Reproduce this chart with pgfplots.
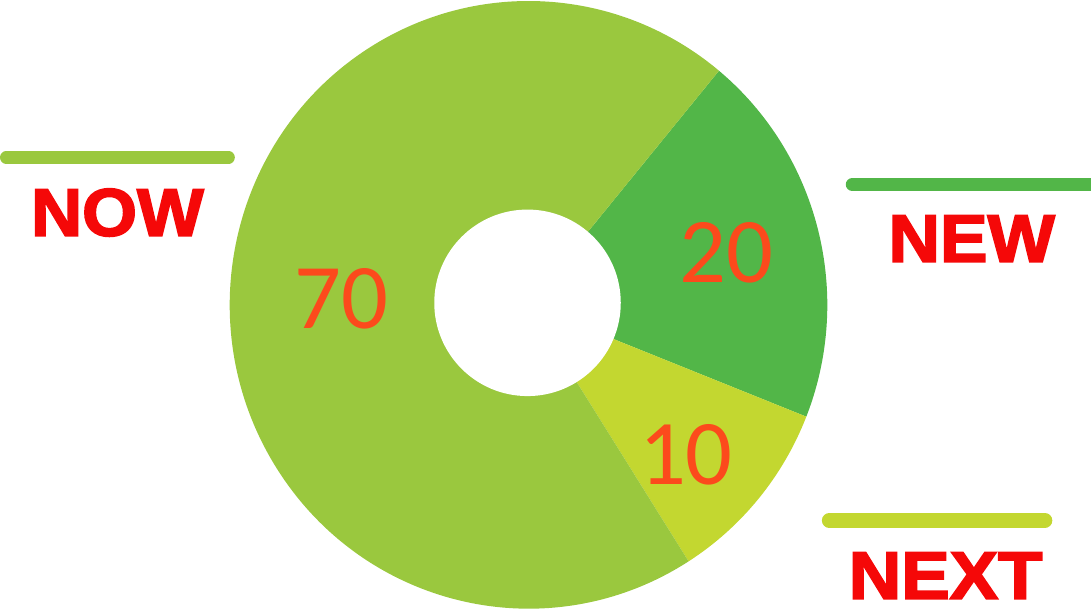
\documentclass[border=0pt]{standalone}
\usepackage{pgfplots}
\pgfplotsset{compat=1.18}
\usepackage{fontspec}
\usepackage{graphicx}
\setmainfont{Liberation Sans}
\newfontfamily\numfont{Carlito}
\newfontfamily\labfont[BoldFeatures={FakeBold=2.6}]{Liberation Sans}
\definecolor{cnow}{RGB}{154,200,62}
\definecolor{cnew}{RGB}{82,182,72}
\definecolor{cnext}{RGB}{195,215,48}
\definecolor{labred}{RGB}{245,8,8}
\definecolor{numred}{RGB}{252,74,28}
% shares (percent)
\def\vNew{20}
\def\vNext{10}
\def\vNow{70}
\def\cx{530}\def\cy{305}\def\rx{298}\def\ry{303}\def\ri{93}
\pgfmathsetmacro\aA{50.4}
\pgfmathsetmacro\aB{\aA-\vNew*3.6}
\pgfmathsetmacro\aC{\aB-\vNext*3.6}
\pgfmathsetmacro\aD{\aC-\vNow*3.6}
\begin{document}
\begin{tikzpicture}
\begin{axis}[
  width=16cm, height=8.932cm, scale only axis,
  xmin=0, xmax=1091, ymin=0, ymax=609,
  hide axis, clip=true,
]
% legend bars
\addplot[cnow, line width=5.1pt, line cap=round] coordinates {(9,452) (231,452)};
\addplot[cnew, line width=5.5pt, line cap=round] coordinates {(853,425) (1110,425)};
\addplot[cnext, line width=6.2pt, line cap=round] coordinates {(830,90) (1045,90)};
% donut sectors
\fill[cnew] (axis cs:\cx,\cy) -- (axis cs:{\cx+\rx*cos(\aA)},{\cy+\ry*sin(\aA)}) arc[start angle=\aA, end angle=\aB, x radius=\rx, y radius=\ry] -- cycle;
\fill[cnext] (axis cs:\cx,\cy) -- (axis cs:{\cx+\rx*cos(\aB)},{\cy+\ry*sin(\aB)}) arc[start angle=\aB, end angle=\aC, x radius=\rx, y radius=\ry] -- cycle;
\fill[cnow] (axis cs:\cx,\cy) -- (axis cs:{\cx+\rx*cos(\aC)},{\cy+\ry*sin(\aC)}) arc[start angle=\aC, end angle=\aD, x radius=\rx, y radius=\ry] -- cycle;
\fill[white] (axis cs:529,307) circle[radius=\ri];
% values
\node[text=numred, inner sep=0, font=\numfont\fontsize{38.5}{40}\selectfont] at (axis cs:343,311) {70};
\node[text=numred, inner sep=0, font=\numfont\fontsize{38.5}{40}\selectfont] at (axis cs:727,357) {20};
\node[text=numred, inner sep=0, font=\numfont\fontsize{38.5}{40}\selectfont] at (axis cs:687,155) {10};
% labels
\node[text=labred, inner sep=0, font=\labfont\bfseries\fontsize{28}{30}\selectfont] at (axis cs:120,397) {\scalebox{1.05}[1]{NOW}};
\node[text=labred, inner sep=0, font=\labfont\bfseries\fontsize{28}{30}\selectfont] at (axis cs:972,371) {\scalebox{1.06}[1]{NEW}};
\node[text=labred, inner sep=0, font=\labfont\bfseries\fontsize{28}{30}\selectfont] at (axis cs:946,35) {\scalebox{1.08}[1]{NEXT}};
\end{axis}
\end{tikzpicture}
\end{document}
